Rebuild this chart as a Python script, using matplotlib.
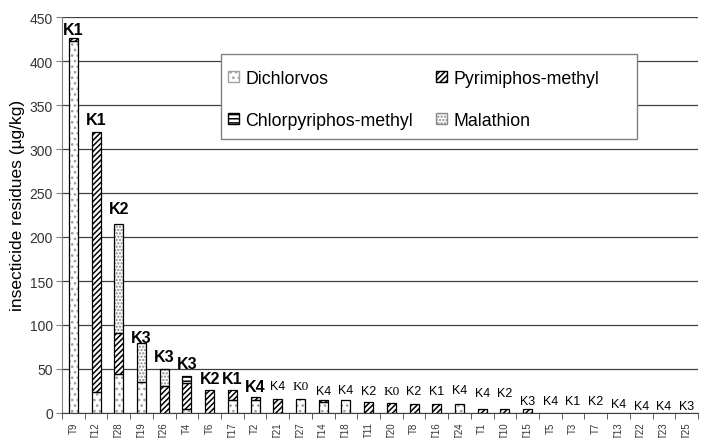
import numpy as np
import matplotlib
matplotlib.use('Agg')
import matplotlib.pyplot as plt
from matplotlib.patches import Patch, Rectangle

plt.rcParams['font.family'] = ['Liberation Sans', 'DejaVu Sans']
plt.rcParams['hatch.linewidth'] = 1.1

## data

samples = ['T9', 'T12', 'T28', 'T19', 'T26', 'T4', 'T6', 'T17', 'T2', 'T21',
           'T27', 'T14', 'T18', 'T11', 'T20', 'T8', 'T16', 'T24', 'T1', 'T10',
           'T15', 'T5', 'T3', 'T7', 'T13', 'T22', 'T23', 'T25']
classes = ['K1', 'K1', 'K2', 'K3', 'K3', 'K3', 'K2', 'K1', 'K4', 'K4',
           'K0', 'K4', 'K4', 'K2', 'K0', 'K2', 'K1', 'K4', 'K4', 'K2',
           'K3', 'K4', 'K1', 'K2', 'K4', 'K4', 'K4', 'K3']

# residues in ug/kg, stacked in this order
dichlorvos    = [423, 24, 44, 35, 0, 4, 0, 15, 15, 0, 16, 12, 15, 0, 0, 0, 0, 10,
                 0, 0, 0, 0, 0, 0, 0, 0, 0, 0]
pyrimiphos    = [3, 295, 47, 0, 31, 30, 26, 11, 3, 16, 0, 3, 0, 12, 11, 10, 10, 0,
                 4, 4, 4, 0, 0, 0, 0, 0, 0, 0]
chlorpyriphos = [0, 0, 0, 0, 0, 8, 0, 0, 0, 0, 0, 0, 0, 0, 0, 0, 0, 0,
                 0, 0, 0, 0, 0, 0, 0, 0, 0, 0]
malathion     = [0, 0, 124, 44, 19, 0, 0, 0, 0, 0, 0, 0, 0, 0, 0, 0, 0, 0,
                 0, 0, 0, 0, 0, 0, 0, 0, 0, 0]

## layout of the class labels above the bars

label_y = [436, 333, 232, 86, 64, 56, 39, 39, 30, 31, 31, 25.5, 26, 25.5, 25.5,
           25.5, 25.5, 26, 22.7, 22.7, 13.6, 13.6, 13.6, 13.6, 10.2, 8, 8, 8]
n_bold = 9

## plot

fig = plt.figure(figsize=(7.01, 4.39), dpi=100)
ax = fig.add_axes([62 / 701, 25 / 439, 636 / 701, 396 / 439])

x = np.arange(len(samples))
width = 0.4
bottoms = np.zeros(len(samples))
series = [
    ('Dichlorvos', dichlorvos, '...', '#a0a0a0'),
    ('Pyrimiphos-methyl', pyrimiphos, '//////', 'black'),
    ('Chlorpyriphos-methyl', chlorpyriphos, '----', 'black'),
    ('Malathion', malathion, '.....', '#8a8a8a'),
]
handles = {}
for name, values, hatch, hcol in series:
    values = np.array(values, dtype=float)
    m = values > 0
    ax.bar(x[m], values[m], width, bottom=bottoms[m], color='white',
           edgecolor=hcol, hatch=hatch, linewidth=0, zorder=3)
    ax.bar(x[m], values[m], width, bottom=bottoms[m], fill=False,
           edgecolor='black', linewidth=0.9, zorder=4)
    bottoms += values
    handles[name] = Patch(facecolor='white', edgecolor=hcol, hatch=hatch)

for i, k in enumerate(classes):
    if i < n_bold:
        ax.text(x[i], label_y[i], k, ha='center', va='center', fontsize=11.5,
                fontweight='bold', zorder=6)
    elif k == 'K0':
        ax.text(x[i], label_y[i], k, ha='center', va='center', fontsize=9.5,
                family='Liberation Serif', zorder=6)
    else:
        ax.text(x[i], label_y[i], k, ha='center', va='center', fontsize=9,
                zorder=6)

ax.set_xlim(-0.5, len(samples) - 0.5)
ax.set_ylim(0, 450)
ax.set_yticks(np.arange(0, 451, 50))
ax.yaxis.grid(True, color='#404040', linewidth=0.9)
ax.set_axisbelow(True)

ax.set_xticks(x)
ax.set_xticklabels(samples, rotation=90, fontsize=7, color='#333333')
ax.set_xticks(np.arange(len(samples) + 1) - 0.5, minor=True)
ax.tick_params(axis='x', which='major', length=0, pad=6)
ax.tick_params(axis='x', which='minor', length=4, color='#404040')
ax.tick_params(axis='y', length=4, color='#808080', labelsize=10,
               labelcolor='#333333', pad=2.5)

for s in ['top', 'right']:
    ax.spines[s].set_visible(False)
ax.spines['left'].set_color('#808080')
ax.spines['bottom'].set_color('#404040')

fig.text(17.5 / 701, 0.531, 'insecticide residues (µg/kg)', rotation=90,
         ha='center', va='center', fontsize=12.5)

# legend box drawn separately so it can be wider than its entries
ax.add_patch(Rectangle((0.2495, 0.692), 0.6545, 0.2146, transform=ax.transAxes,
                       facecolor='white', edgecolor='#808080', linewidth=1,
                       zorder=5))
order = ['Dichlorvos', 'Chlorpyriphos-methyl', 'Pyrimiphos-methyl', 'Malathion']
leg = ax.legend([handles[k] for k in order], order, ncol=2, frameon=False,
                loc='center left', bbox_to_anchor=(0.261, 0.792),
                borderpad=0, borderaxespad=0, fontsize=12.8,
                handlelength=0.6, handleheight=0.6, handletextpad=0.37,
                columnspacing=1.3, labelspacing=1.38)
leg.set_zorder(6)
# black outline round each legend key
for p in leg.get_patches():
    ax.add_patch(Rectangle((0, 0), 1, 1, transform=p.get_transform(),
                           fill=False, edgecolor='black', linewidth=0.8))

fig.savefig('out.png', dpi=100)
